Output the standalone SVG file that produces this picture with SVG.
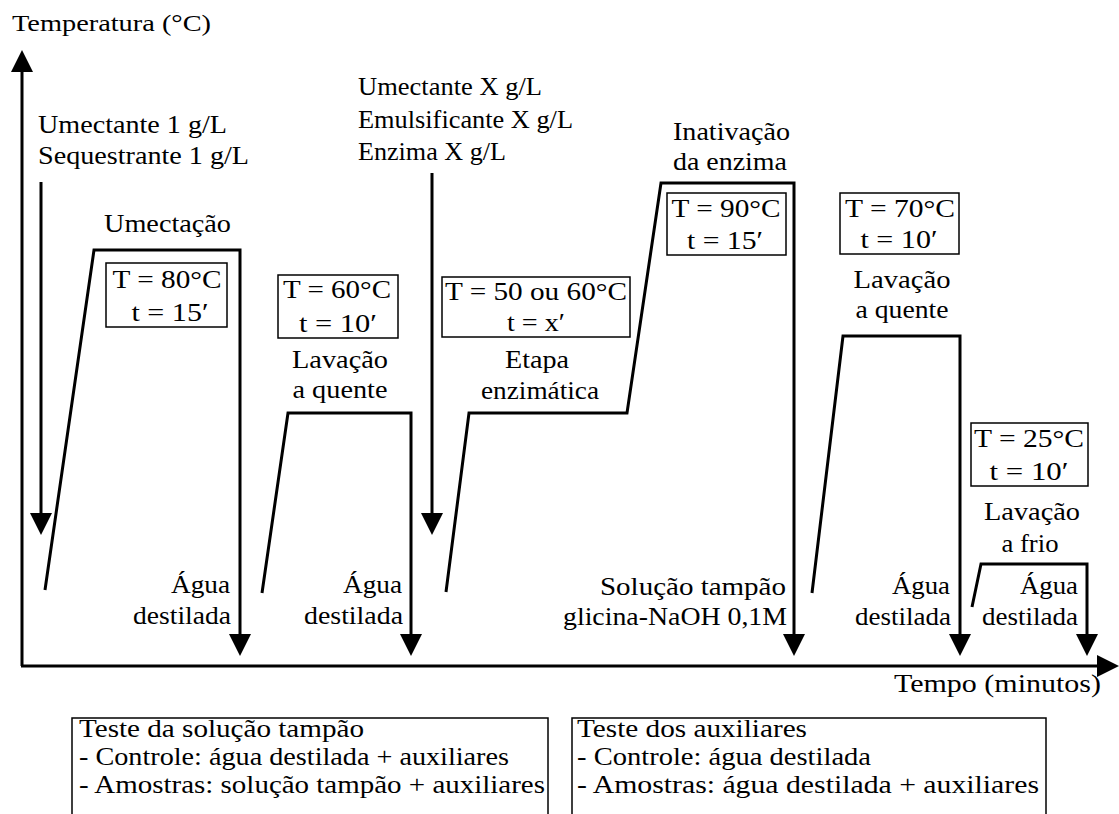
<svg xmlns="http://www.w3.org/2000/svg" width="1119" height="814" viewBox="0 0 1119 814">
<style>
text { font-family: "Liberation Serif", "DejaVu Serif", "Noto Serif", serif; font-size: 25px; fill: #000; }
.m { text-anchor: middle; }
.e { text-anchor: end; }
.ax { font-size: 23px; }
.ln { fill: none; stroke: #000; stroke-width: 3; stroke-linejoin: miter; }
.bx { fill: none; stroke: #000; stroke-width: 1.5; }
</style>
<defs>
<marker id="ah" viewBox="0 0 22 22" refX="18" refY="11" markerWidth="22" markerHeight="22" markerUnits="userSpaceOnUse" orient="auto">
<path d="M0,0 L22,11 L0,22 z" fill="#000"/>
</marker>
</defs>
<rect width="1119" height="814" fill="#fff"/>

<g id="connectors">
<line class="ln" x1="22" y1="666" x2="22" y2="54" marker-end="url(#ah)"/>
<line class="ln" x1="21" y1="666" x2="1115" y2="666" marker-end="url(#ah)"/>
<line class="ln" x1="41" y1="182" x2="41" y2="531" marker-end="url(#ah)"/>
<line class="ln" x1="432" y1="173" x2="432" y2="531" marker-end="url(#ah)"/>
<polyline class="ln" points="45,590 94,250 240,250 240,652" marker-end="url(#ah)"/>
<polyline class="ln" points="262,593 288,413 411,413 411,652" marker-end="url(#ah)"/>
<polyline class="ln" points="446,592 469,413 627,413 661,183 794,183 794,652" marker-end="url(#ah)"/>
<polyline class="ln" points="812,593 843,336 960,336 960,652" marker-end="url(#ah)"/>
<polyline class="ln" points="972,607 981,564 1087,564 1087,652" marker-end="url(#ah)"/>
</g>

<g id="axis-labels" font-family="Liberation Serif, DejaVu Serif, serif">
<text class="ax" x="12" y="31" textLength="199" lengthAdjust="spacingAndGlyphs">Temperatura (°C)</text>
<text x="894" y="692" textLength="207" lengthAdjust="spacingAndGlyphs">Tempo (minutos)</text>
</g>

<g id="add-1" font-family="Liberation Serif, DejaVu Serif, serif">
<text x="38" y="133" textLength="189" lengthAdjust="spacingAndGlyphs">Umectante 1 g/L</text>
<text x="38" y="164" textLength="211" lengthAdjust="spacingAndGlyphs">Sequestrante 1 g/L</text>
</g>

<g id="stage-umectacao" font-family="Liberation Serif, DejaVu Serif, serif">
<text x="104" y="232" textLength="127" lengthAdjust="spacingAndGlyphs">Umectação</text>
<rect class="bx" x="106" y="263" width="121" height="64"/>
<text class="m" x="167" y="288" textLength="109" lengthAdjust="spacingAndGlyphs">T = 80°C</text>
<text class="m" x="170" y="321" textLength="77" lengthAdjust="spacingAndGlyphs">t = 15′</text>
<text class="e" x="230" y="593" textLength="59" lengthAdjust="spacingAndGlyphs">Água</text>
<text class="e" x="231" y="624" textLength="98" lengthAdjust="spacingAndGlyphs">destilada</text>
</g>

<g id="stage-lavacao-1" font-family="Liberation Serif, DejaVu Serif, serif">
<rect class="bx" x="278" y="275" width="120" height="63"/>
<text class="m" x="337" y="298" textLength="108" lengthAdjust="spacingAndGlyphs">T = 60°C</text>
<text class="m" x="338" y="332" textLength="78" lengthAdjust="spacingAndGlyphs">t = 10′</text>
<text class="m" x="340" y="368" textLength="96" lengthAdjust="spacingAndGlyphs">Lavação</text>
<text class="m" x="340" y="398" textLength="95" lengthAdjust="spacingAndGlyphs">a quente</text>
<text class="e" x="402" y="593" textLength="59" lengthAdjust="spacingAndGlyphs">Água</text>
<text class="e" x="403" y="624" textLength="99" lengthAdjust="spacingAndGlyphs">destilada</text>
</g>

<g id="add-2" font-family="Liberation Serif, DejaVu Serif, serif">
<text x="358" y="95" textLength="184" lengthAdjust="spacingAndGlyphs">Umectante X g/L</text>
<text x="358" y="128" textLength="215" lengthAdjust="spacingAndGlyphs">Emulsificante X g/L</text>
<text x="358" y="160" textLength="148" lengthAdjust="spacingAndGlyphs">Enzima X g/L</text>
</g>

<g id="stage-enzimatica" font-family="Liberation Serif, DejaVu Serif, serif">
<rect class="bx" x="442" y="277" width="188" height="60"/>
<text class="m" x="536" y="300" textLength="182" lengthAdjust="spacingAndGlyphs">T = 50 ou 60°C</text>
<text class="m" x="536" y="331" textLength="58" lengthAdjust="spacingAndGlyphs">t = x′</text>
<text class="m" x="537" y="368" textLength="64" lengthAdjust="spacingAndGlyphs">Etapa</text>
<text class="m" x="540" y="399" textLength="118" lengthAdjust="spacingAndGlyphs">enzimática</text>
</g>

<g id="stage-inativacao" font-family="Liberation Serif, DejaVu Serif, serif">
<text x="673" y="140" textLength="117" lengthAdjust="spacingAndGlyphs">Inativação</text>
<text x="673" y="170" textLength="114" lengthAdjust="spacingAndGlyphs">da enzima</text>
<rect class="bx" x="667" y="193" width="119" height="62"/>
<text class="m" x="726" y="217" textLength="109" lengthAdjust="spacingAndGlyphs">T = 90°C</text>
<text class="m" x="725" y="249" textLength="76" lengthAdjust="spacingAndGlyphs">t = 15′</text>
<text class="e" x="786" y="595" textLength="186" lengthAdjust="spacingAndGlyphs">Solução tampão</text>
<text class="e" x="787" y="625" textLength="224" lengthAdjust="spacingAndGlyphs">glicina-NaOH 0,1M</text>
</g>

<g id="stage-lavacao-2" font-family="Liberation Serif, DejaVu Serif, serif">
<rect class="bx" x="840" y="193" width="119" height="61"/>
<text class="m" x="900" y="217" textLength="110" lengthAdjust="spacingAndGlyphs">T = 70°C</text>
<text class="m" x="899" y="248" textLength="77" lengthAdjust="spacingAndGlyphs">t = 10′</text>
<text class="m" x="902" y="288" textLength="97" lengthAdjust="spacingAndGlyphs">Lavação</text>
<text class="m" x="902" y="318" textLength="93" lengthAdjust="spacingAndGlyphs">a quente</text>
<text class="e" x="950" y="594" textLength="58" lengthAdjust="spacingAndGlyphs">Água</text>
<text class="e" x="951" y="625" textLength="96" lengthAdjust="spacingAndGlyphs">destilada</text>
</g>

<g id="stage-lavacao-3" font-family="Liberation Serif, DejaVu Serif, serif">
<rect class="bx" x="971" y="423" width="117" height="63"/>
<text class="m" x="1029" y="447" textLength="110" lengthAdjust="spacingAndGlyphs">T = 25°C</text>
<text class="m" x="1029" y="480" textLength="79" lengthAdjust="spacingAndGlyphs">t = 10′</text>
<text class="m" x="1032" y="520" textLength="96" lengthAdjust="spacingAndGlyphs">Lavação</text>
<text class="m" x="1030" y="552" textLength="57" lengthAdjust="spacingAndGlyphs">a frio</text>
<text class="e" x="1078" y="594" textLength="58" lengthAdjust="spacingAndGlyphs">Água</text>
<text class="e" x="1078" y="625" textLength="96" lengthAdjust="spacingAndGlyphs">destilada</text>
</g>

<g id="test-tampao" font-family="Liberation Serif, DejaVu Serif, serif">
<rect class="bx" x="72" y="718" width="476" height="110"/>
<text x="79" y="737" textLength="285" lengthAdjust="spacingAndGlyphs">Teste da solução tampão</text>
<text x="79" y="765" textLength="430" lengthAdjust="spacingAndGlyphs">- Controle: água destilada + auxiliares</text>
<text x="79" y="793" textLength="466" lengthAdjust="spacingAndGlyphs">- Amostras: solução tampão + auxiliares</text>
</g>

<g id="test-auxiliares" font-family="Liberation Serif, DejaVu Serif, serif">
<rect class="bx" x="572" y="718" width="474" height="110"/>
<text x="577" y="737" textLength="230" lengthAdjust="spacingAndGlyphs">Teste dos auxiliares</text>
<text x="577" y="765" textLength="294" lengthAdjust="spacingAndGlyphs">- Controle: água destilada</text>
<text x="577" y="793" textLength="462" lengthAdjust="spacingAndGlyphs">- Amostras: água destilada + auxiliares</text>
</g>
</svg>
